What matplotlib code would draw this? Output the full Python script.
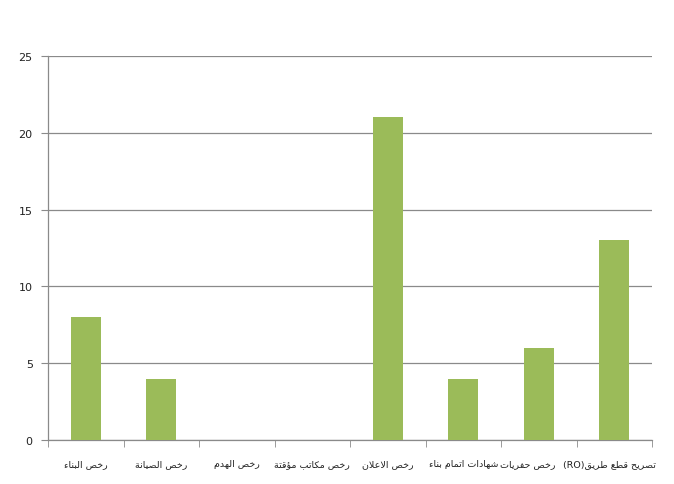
import re
import matplotlib
matplotlib.use("Agg")
import matplotlib.pyplot as plt
from matplotlib.ticker import FixedLocator
import matplotlib.transforms as mtransforms

categories = ["رخص البناء", "رخص الصيانة", "رخص الهدم", "رخص مكاتب مؤقتة",
              "رخص الاعلان", "شهادات اتمام بناء", "رخص حفريات", "تصريح قطع طريق(RO)"]
values = [8, 4, 0, 0, 21, 4, 6, 13]
yticks = [0, 5, 10, 15, 20, 25]

# --- minimal Arabic shaping (presentation forms) + simple bidi ---
FORMS = {
    'ء': (0xFE80, None, None, None), 'آ': (0xFE81, 0xFE82, None, None),
    'أ': (0xFE83, 0xFE84, None, None), 'ؤ': (0xFE85, 0xFE86, None, None),
    'إ': (0xFE87, 0xFE88, None, None), 'ئ': (0xFE89, 0xFE8A, 0xFE8B, 0xFE8C),
    'ا': (0xFE8D, 0xFE8E, None, None), 'ب': (0xFE8F, 0xFE90, 0xFE91, 0xFE92),
    'ة': (0xFE93, 0xFE94, None, None), 'ت': (0xFE95, 0xFE96, 0xFE97, 0xFE98),
    'ث': (0xFE99, 0xFE9A, 0xFE9B, 0xFE9C), 'ج': (0xFE9D, 0xFE9E, 0xFE9F, 0xFEA0),
    'ح': (0xFEA1, 0xFEA2, 0xFEA3, 0xFEA4), 'خ': (0xFEA5, 0xFEA6, 0xFEA7, 0xFEA8),
    'د': (0xFEA9, 0xFEAA, None, None), 'ذ': (0xFEAB, 0xFEAC, None, None),
    'ر': (0xFEAD, 0xFEAE, None, None), 'ز': (0xFEAF, 0xFEB0, None, None),
    'س': (0xFEB1, 0xFEB2, 0xFEB3, 0xFEB4), 'ش': (0xFEB5, 0xFEB6, 0xFEB7, 0xFEB8),
    'ص': (0xFEB9, 0xFEBA, 0xFEBB, 0xFEBC), 'ض': (0xFEBD, 0xFEBE, 0xFEBF, 0xFEC0),
    'ط': (0xFEC1, 0xFEC2, 0xFEC3, 0xFEC4), 'ظ': (0xFEC5, 0xFEC6, 0xFEC7, 0xFEC8),
    'ع': (0xFEC9, 0xFECA, 0xFECB, 0xFECC), 'غ': (0xFECD, 0xFECE, 0xFECF, 0xFED0),
    'ف': (0xFED1, 0xFED2, 0xFED3, 0xFED4), 'ق': (0xFED5, 0xFED6, 0xFED7, 0xFED8),
    'ك': (0xFED9, 0xFEDA, 0xFEDB, 0xFEDC), 'ل': (0xFEDD, 0xFEDE, 0xFEDF, 0xFEE0),
    'م': (0xFEE1, 0xFEE2, 0xFEE3, 0xFEE4), 'ن': (0xFEE5, 0xFEE6, 0xFEE7, 0xFEE8),
    'ه': (0xFEE9, 0xFEEA, 0xFEEB, 0xFEEC), 'و': (0xFEED, 0xFEEE, None, None),
    'ى': (0xFEEF, 0xFEF0, None, None), 'ي': (0xFEF1, 0xFEF2, 0xFEF3, 0xFEF4),
}
LAMALEF = {'ا': (0xFEFB, 0xFEFC), 'أ': (0xFEF7, 0xFEF8), 'إ': (0xFEF9, 0xFEFA), 'آ': (0xFEF5, 0xFEF6)}


def joins_next(c):
    return c in FORMS and FORMS[c][2] is not None


def shape(word):
    chars = []
    i = 0
    while i < len(word):
        c = word[i]
        if c == 'ل' and i + 1 < len(word) and word[i + 1] in LAMALEF:
            chars.append(('LA', word[i + 1]))
            i += 2
        else:
            chars.append(('C', c))
            i += 1
    out = []
    for k, (kind, c) in enumerate(chars):
        prev = chars[k - 1] if k > 0 else None
        nxt = chars[k + 1] if k + 1 < len(chars) else None
        prev_joins = prev is not None and prev[0] == 'C' and joins_next(prev[1])
        if kind == 'LA':
            iso, fin = LAMALEF[c]
            out.append(chr(fin if prev_joins else iso))
            continue
        if c not in FORMS:
            out.append(c)
            continue
        iso, fin, ini, med = FORMS[c]
        next_ok = nxt is not None and (nxt[0] == 'LA' or nxt[1] in FORMS)
        can_next = ini is not None and next_ok
        if prev_joins and can_next:
            out.append(chr(med))
        elif prev_joins:
            out.append(chr(fin))
        elif can_next:
            out.append(chr(ini))
        else:
            out.append(chr(iso))
    return ''.join(out)


def visual(text):
    runs = re.findall(r'[A-Za-z0-9()]+|[^A-Za-z0-9()]+', text)
    parts = []
    for r in runs:
        if re.match(r'[A-Za-z0-9()]', r):
            parts.append(r)
        else:
            words = r.split(' ')
            parts.append(' '.join(shape(w)[::-1] for w in words[::-1]))
    return ''.join(parts[::-1])


plt.rcParams['font.family'] = ['DejaVu Sans']

fig = plt.figure(figsize=(6.74, 4.85), dpi=100)
ax = fig.add_axes([48 / 674, 1 - 441 / 485, 604 / 674, 384 / 485])

x = list(range(len(categories)))
ax.bar(x, values, width=0.4, color='#9BBB59', zorder=3)

ax.set_xlim(-0.5, len(categories) - 0.5)
ax.set_ylim(0, 25)
ax.set_yticks(yticks)
ax.set_yticklabels([str(v) for v in yticks], fontsize=8, color='#222222')
ax.yaxis.grid(True, color='#8a8a8a', linewidth=0.9, zorder=0)

ax.set_xticks(x)
ax.set_xticklabels([visual(c) for c in categories], fontsize=6.8, color='#222222')
ax.xaxis.set_minor_locator(FixedLocator([i - 0.5 for i in range(len(categories) + 1)]))
ax.tick_params(axis='x', which='major', length=0, pad=14)
ax.tick_params(axis='x', which='minor', length=5, color='#8a8a8a', direction='out')
ax.tick_params(axis='y', length=5, color='#8a8a8a', direction='out', pad=6)

# nudge the last two labels as in the reference
labels = ax.get_xticklabels()
for lbl, dx in ((labels[-1], -5), (labels[-2], -11)):
    lbl.set_transform(lbl.get_transform() + mtransforms.ScaledTranslation(dx / 100, 0, fig.dpi_scale_trans))

for s in ['top', 'right']:
    ax.spines[s].set_visible(False)
for s in ['left', 'bottom']:
    ax.spines[s].set_color('#8a8a8a')
    ax.spines[s].set_linewidth(0.9)

fig.savefig('out.png', dpi=100)
